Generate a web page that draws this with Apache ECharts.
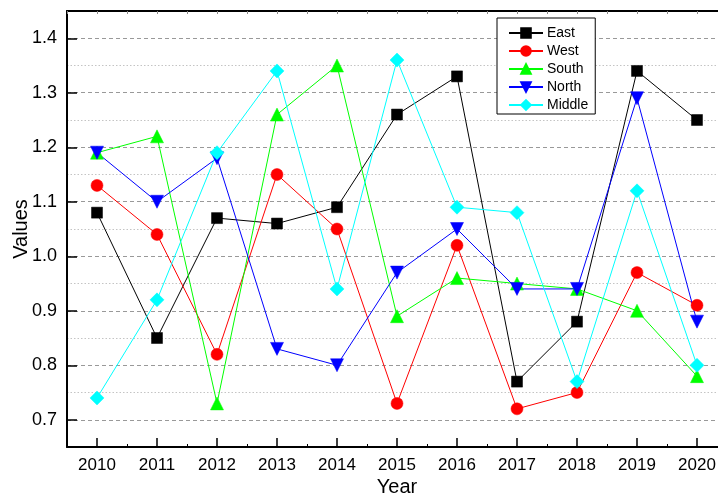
<!DOCTYPE html>
<html>
<head>
<meta charset="utf-8">
<script src="https://cdn.jsdelivr.net/npm/echarts@6/dist/echarts.min.js"></script>
<style>
  html, body { margin: 0; padding: 0; background: #fff; }
  #chart { width: 718px; height: 498px; }
</style>
</head>
<body>
<div id="chart"></div>
<script>
// Regional values by year
const years = [2010, 2011, 2012, 2013, 2014, 2015, 2016, 2017, 2018, 2019, 2020];
const east   = [1.08, 0.85, 1.07, 1.06, 1.09, 1.26, 1.33, 0.77, 0.88, 1.34, 1.25];
const west   = [1.13, 1.04, 0.82, 1.15, 1.05, 0.73, 1.02, 0.72, 0.75, 0.97, 0.91];
const south  = [1.19, 1.22, 0.73, 1.26, 1.35, 0.89, 0.96, 0.95, 0.94, 0.90, 0.78];
const north  = [1.19, 1.10, 1.18, 0.83, 0.80, 0.97, 1.05, 0.94, 0.94, 1.29, 0.88];
const middle = [0.74, 0.92, 1.19, 1.34, 0.94, 1.36, 1.09, 1.08, 0.77, 1.12, 0.80];

// Axis tick values
const yMajorTicks = [0.7, 0.8, 0.9, 1.0, 1.1, 1.2, 1.3, 1.4];
const yMinorTicks = [0.75, 0.85, 0.95, 1.05, 1.15, 1.25, 1.35];
const xMinorTicks = [2009.5, 2010.5, 2011.5, 2012.5, 2013.5, 2014.5, 2015.5, 2016.5, 2017.5, 2018.5, 2019.5, 2020.5];

const FONT = "'Liberation Sans', Arial, sans-serif";
const X_MIN = 2009.5, X_MAX = 2020.5, Y_MIN = 0.65, Y_MAX = 1.45;

const pairs = arr => years.map((y, i) => [y, arr[i]]);

function lineSeries(name, data, color, symbol, size, rotate) {
  return {
    name: name,
    type: 'line',
    xAxisIndex: 0,
    yAxisIndex: 0,
    data: pairs(data),
    symbol: symbol,
    symbolSize: size,
    symbolRotate: rotate || 0,
    showAllSymbol: true,
    lineStyle: { color: color, width: 1 },
    itemStyle: { color: color, borderColor: color, borderWidth: 0.5 },
    emphasis: { disabled: true },
    animation: false
  };
}

const chart = echarts.init(document.getElementById('chart'), null, { renderer: 'canvas' });

// The plot box runs past the right edge of the canvas, so keep it fixed
const gridBox = { left: 67, top: 11, width: 660, height: 436, containLabel: false, outerBoundsMode: 'none' };

chart.setOption({
  backgroundColor: '#ffffff',
  animation: false,
  textStyle: { fontFamily: FONT },
  grid: [Object.assign({}, gridBox), Object.assign({}, gridBox)],
  legend: {
    orient: 'vertical',
    left: 497,
    top: 18,
    padding: [8, 7, 2, 11],
    itemWidth: 34,
    itemHeight: 12,
    itemGap: 4,
    backgroundColor: '#ffffff',
    borderColor: '#000000',
    borderWidth: 1,
    textStyle: { fontFamily: FONT, fontSize: 14, color: '#000', padding: [0, 0, 0, -1] },
    data: ['East', 'West', 'South', 'North', 'Middle']
  },
  xAxis: [
    {
      gridIndex: 0,
      type: 'value',
      position: 'bottom',
      min: X_MIN,
      max: X_MAX,
      name: 'Year',
      nameLocation: 'middle',
      nameGap: 30,
      nameMoveOverlap: false,
      nameTextStyle: { fontFamily: FONT, fontSize: 20, color: '#000' },
      axisLine: { show: true, lineStyle: { color: '#000', width: 2 } },
      axisTick: { show: true, inside: true, length: 9, customValues: years, lineStyle: { color: '#000', width: 1.5 } },
      axisLabel: { show: true, customValues: years, fontFamily: FONT, fontSize: 17, color: '#000', margin: 10,
                   formatter: v => String(Math.round(v)) },
      splitLine: { show: false }
    },
    {
      gridIndex: 0,
      type: 'value',
      position: 'top',
      min: X_MIN,
      max: X_MAX,
      axisLine: { show: true, lineStyle: { color: '#000', width: 2 } },
      axisTick: { show: true, inside: true, length: 3, customValues: years.concat(xMinorTicks), lineStyle: { color: '#888', width: 1 } },
      axisLabel: { show: false },
      splitLine: { show: false }
    },
    {
      gridIndex: 1,
      type: 'value',
      position: 'bottom',
      min: X_MIN,
      max: X_MAX,
      axisLine: { show: false },
      axisTick: { show: true, inside: true, length: 3, customValues: xMinorTicks, lineStyle: { color: '#000', width: 1 } },
      axisLabel: { show: false },
      splitLine: { show: false }
    }
  ],
  yAxis: [
    {
      gridIndex: 0,
      type: 'value',
      min: Y_MIN,
      max: Y_MAX,
      name: 'Values',
      nameLocation: 'middle',
      nameGap: 36,
      nameMoveOverlap: false,
      nameTextStyle: { fontFamily: FONT, fontSize: 20, color: '#000' },
      axisLine: { show: true, lineStyle: { color: '#000', width: 2 } },
      axisTick: { show: true, inside: true, length: 10, customValues: yMajorTicks, lineStyle: { color: '#000', width: 1.5 } },
      axisLabel: { show: true, customValues: yMajorTicks, fontFamily: FONT, fontSize: 18, color: '#000', margin: 10,
                   formatter: v => v.toFixed(1) },
      splitLine: { show: true, lineStyle: { color: '#999', width: 1, type: [4, 3] } }
    },
    {
      gridIndex: 1,
      type: 'value',
      min: Y_MIN,
      max: Y_MAX,
      axisLine: { show: false },
      axisTick: { show: false, customValues: yMinorTicks },
      axisLabel: { show: false },
      splitLine: { show: true, lineStyle: { color: '#c4c4c4', width: 1, type: [1.5, 2] } }
    }
  ],
  series: [
    lineSeries('East', east, '#000000', 'rect', 11),
    lineSeries('West', west, '#ff0000', 'circle', 12),
    lineSeries('South', south, '#00ff00', 'triangle', 13),
    lineSeries('North', north, '#0000ff', 'triangle', 13, 180),
    lineSeries('Middle', middle, '#00ffff', 'diamond', 14)
  ]
});
</script>
</body>
</html>
